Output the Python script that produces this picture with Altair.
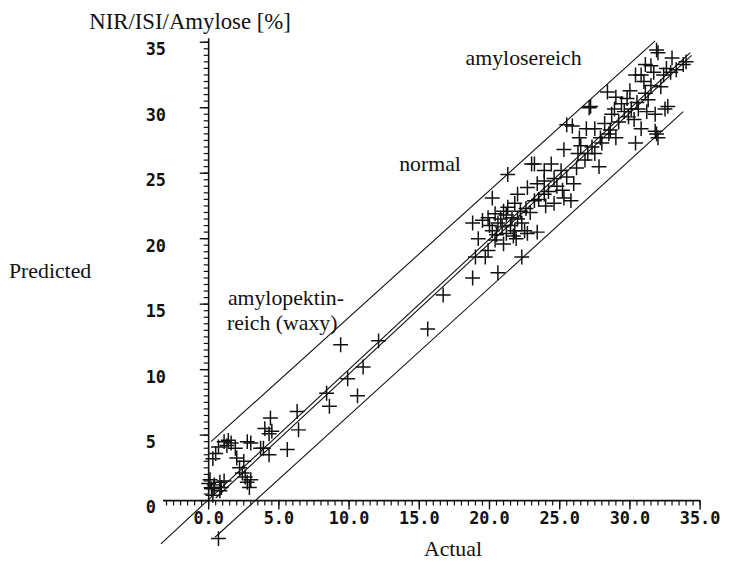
import altair as alt
import pandas as pd
import numpy as np

# ---- data (Actual vs Predicted amylose, %) ----
actual = [
    0.0, 0.2, 0.4, 0.9, 1.1, 0.3, 0.4, 0.8, 0.8, 0.1,
    0.3, 0.7, 0.5,
    1.1, 1.6, 1.9, 1.3, 1.4,
    2.0, 2.5, 3.0, 2.75, 3.7,
    2.4, 2.6, 2.75, 2.9, 2.2, 3.0,
    4.4, 4.0, 4.3, 4.5, 3.9, 4.3, 5.6, 6.3, 6.4,
    0.7,
    8.4, 8.6, 9.4, 9.9, 10.6, 11.0, 12.1, 15.6, 16.7,
    18.8, 20.6, 19.0, 19.7, 22.3, 19.9, 19.2, 20.4, 21.9, 21.2,
    22.7, 20.2, 21.8, 22.5, 23.4, 20.9, 18.8, 20.6, 22.3, 19.5,
    19.9, 21.6, 20.4, 21.0, 22.2, 21.3, 21.8, 24.6, 20.2, 25.3,
    25.8, 23.2, 22.0, 23.9, 25.2, 22.7, 23.4, 26.0, 23.9, 24.6,
    21.3, 23.9, 25.1, 23.0, 24.4, 26.3, 23.2,
    20.0, 20.8, 21.5, 21.2, 22.0, 22.6, 21.7, 20.5, 21.0, 22.9,
    23.5, 24.2, 24.8, 25.5, 24.0,
    26.2, 27.8, 26.5, 27.5, 27.0, 25.3, 26.4, 27.9, 29.0, 30.4,
    31.9, 32.0, 31.8, 30.8, 26.9, 27.5, 28.5, 28.2, 25.5, 25.9,
    30.3, 28.7, 29.6, 31.2, 31.8, 28.9, 30.1, 30.6, 32.5, 27.2,
    27.1, 32.7, 29.4, 29.8, 31.1, 28.4, 31.5, 32.2, 30.4, 30.8,
    32.4, 31.7, 32.9, 31.5, 31.1, 33.8, 34.0, 32.0, 31.9, 33.0,
    26.8, 27.3, 28.0, 28.6, 29.2, 29.9, 30.5, 31.3, 29.0, 30.0,
    31.0, 32.6, 33.3,
]
predicted = [
    1.3, 0.9, 1.2, 1.0, 1.5, 0.4, 1.0, 1.4, 0.75, 1.6,
    3.2, 4.1, 3.6,
    4.5, 4.4, 4.0, 4.2, 4.6,
    3.25, 3.0, 4.4, 4.5, 4.0,
    2.1, 1.8, 1.4, 1.0, 2.5, 1.6,
    6.3, 5.5, 5.1, 5.3, 4.0, 3.5, 3.9, 6.8, 5.4,
    -2.9,
    8.2, 7.2, 11.9, 9.3, 8.0, 10.2, 12.2, 13.1, 15.7,
    17.0, 17.4, 18.6, 18.6, 18.6, 19.1, 20.0, 19.9, 20.0, 20.4,
    20.4, 20.6, 20.6, 20.6, 20.5, 20.9, 21.2, 21.2, 21.2, 21.4,
    21.6, 21.6, 21.9, 22.1, 22.1, 22.4, 22.7, 22.7, 23.1, 23.1,
    22.9, 22.9, 23.4, 23.4, 23.7, 23.9, 24.2, 24.2, 24.4, 24.6,
    24.9, 25.2, 25.2, 25.7, 25.7, 26.5, 25.7,
    21.0, 21.5, 21.0, 21.8, 21.5, 22.3, 20.2, 20.3, 19.6, 22.0,
    23.0, 23.6, 24.0, 24.7, 22.5,
    25.4, 25.5, 27.1, 26.5, 26.5, 26.8, 27.7, 27.7, 27.7, 27.3,
    28.0, 27.7, 28.2, 28.4, 28.4, 28.4, 28.0, 28.8, 28.7, 28.6,
    29.1, 29.5, 29.7, 29.7, 29.5, 29.9, 29.9, 29.9, 29.9, 30.1,
    30.0, 30.1, 30.3, 30.7, 31.1, 31.2, 31.7, 31.6, 32.5, 32.5,
    32.5, 32.7, 32.7, 33.2, 33.3, 33.3, 33.5, 34.2, 34.4, 33.8,
    26.0, 27.0, 27.3, 28.3, 28.9, 29.3, 30.4, 30.6, 30.8, 31.3,
    32.0, 33.0, 32.9,
]

# reference / regression / band lines (end points, data units)
line_names = ["upper", "upper", "diag", "diag", "reg", "reg", "lower", "lower"]
line_x = [0.17, 31.8, -3.4, 34.3, 0.5, 34.4, 0.45, 33.8]
line_y = [4.5, 35.1, -3.3, 34.2, 0.2, 34.0, -2.8, 29.7]

x_tick_values = [0, 5, 10, 15, 20, 25, 30, 35]
x_tick_labels = ["0.0", "5.0", "10.0", "15.0", "20.0", "25.0", "30.0", "35.0"]
y_tick_values = [0, 5, 10, 15, 20, 25, 30, 35]
y_tick_labels = ["0", "5", "10", "15", "20", "25", "30", "35"]

region_labels = ["amylosereich", "normal", "amylopektin-", "reich (waxy)"]
region_x = [18.3, 13.57, 1.37, 1.3]
region_y = [33.25, 25.2, 14.95, 13.05]

x_title = "Actual"
y_title = "Predicted"
top_title = "NIR/ISI/Amylose [%]"

# ---- chart ----
xs = alt.Scale(domain=[-3.5, 35.5], nice=False, zero=False)
ys = alt.Scale(domain=[-3.5, 36.5], nice=False, zero=False)
INK = "#111111"
SERIF = "Liberation Serif"
MONO = "DejaVu Sans Mono"
one = alt.Data(values=[{}])

pts = pd.DataFrame({"actual": actual, "predicted": predicted})
lines_df = pd.DataFrame({"line": line_names, "x": line_x, "y": line_y})

minor_x = pd.DataFrame({"v": np.arange(-3.0, 35.01, 0.5)})
minor_y = pd.DataFrame({"v": np.arange(0.0, 35.01, 0.5)})
major_x = pd.DataFrame({"v": x_tick_values})
major_y = pd.DataFrame({"v": y_tick_values})
xlab = pd.DataFrame({"v": x_tick_values, "t": x_tick_labels})
ylab = pd.DataFrame({"v": y_tick_values, "t": y_tick_labels})
reg = pd.DataFrame({"t": region_labels, "x": region_x, "y": region_y})

lines = alt.Chart(lines_df).mark_line(color=INK, strokeWidth=1.1).encode(
    x=alt.X("x:Q", scale=xs, axis=None),
    y=alt.Y("y:Q", scale=ys, axis=None),
    detail="line:N",
)

points = alt.Chart(pts).mark_point(
    shape="M-1,0L1,0M0,-1L0,1", filled=False, size=225,
    strokeWidth=1.5, color=INK, opacity=1,
).encode(
    x=alt.X("actual:Q", scale=xs, axis=None),
    y=alt.Y("predicted:Q", scale=ys, axis=None),
)

x_axis_line = alt.Chart(one).mark_rule(color=INK, strokeWidth=1.6).encode(
    x=alt.X(datum=-3.25, type="quantitative", scale=xs, axis=None),
    x2=alt.X2(datum=35.0),
    y=alt.Y(datum=0, type="quantitative", scale=ys, axis=None),
)
y_axis_line = alt.Chart(one).mark_rule(color=INK, strokeWidth=1.6).encode(
    x=alt.X(datum=0, type="quantitative", scale=xs, axis=None),
    y=alt.Y(datum=0, type="quantitative", scale=ys, axis=None),
    y2=alt.Y2(datum=35.3),
)

x_minor = alt.Chart(minor_x).mark_tick(orient="vertical", size=5, thickness=1.2, yOffset=2.5, color=INK, opacity=1).encode(
    x=alt.X("v:Q", scale=xs, axis=None),
    y=alt.Y(datum=0, type="quantitative", scale=ys, axis=None),
)
x_major = alt.Chart(major_x).mark_tick(orient="vertical", size=9, thickness=1.4, yOffset=4.5, color=INK, opacity=1).encode(
    x=alt.X("v:Q", scale=xs, axis=None),
    y=alt.Y(datum=0, type="quantitative", scale=ys, axis=None),
)
y_minor = alt.Chart(minor_y).mark_tick(orient="horizontal", size=5, thickness=1.2, xOffset=-2.5, color=INK, opacity=1).encode(
    y=alt.Y("v:Q", scale=ys, axis=None),
    x=alt.X(datum=0, type="quantitative", scale=xs, axis=None),
)
y_major = alt.Chart(major_y).mark_tick(orient="horizontal", size=9, thickness=1.4, xOffset=-4.5, color=INK, opacity=1).encode(
    y=alt.Y("v:Q", scale=ys, axis=None),
    x=alt.X(datum=0, type="quantitative", scale=xs, axis=None),
)

x_labels = alt.Chart(xlab).mark_text(font=MONO, fontSize=17, fontWeight="bold", color=INK,
                                     align="center", baseline="middle", dy=19).encode(
    x=alt.X("v:Q", scale=xs, axis=None),
    y=alt.Y(datum=0, type="quantitative", scale=ys, axis=None),
    text="t:N",
)
y_labels = alt.Chart(ylab).mark_text(font=MONO, fontSize=17, fontWeight="bold", color=INK,
                                     align="left", baseline="middle", dy=8).encode(
    y=alt.Y("v:Q", scale=ys, axis=None),
    x=alt.value(-14),
    text="t:N",
)

regions = alt.Chart(reg).mark_text(font=SERIF, fontSize=22, color=INK,
                                   align="left", baseline="alphabetic").encode(
    x=alt.X("x:Q", scale=xs, axis=None),
    y=alt.Y("y:Q", scale=ys, axis=None),
    text="t:N",
)

def title_text(txt, px, py, size=22):
    return alt.Chart(one).mark_text(font=SERIF, fontSize=size, color=INK,
                                    align="left", baseline="alphabetic", text=txt).encode(
        x=alt.value(px), y=alt.value(py))

titles = (title_text(top_title, -71, 6, 23)
          + title_text(y_title, -152, 258)
          + title_text(x_title, 267, 539))

chart = alt.layer(
    lines, points, x_axis_line, y_axis_line, x_minor, x_major, y_minor, y_major,
    x_labels, y_labels, regions, titles,
).properties(
    width=553, height=529,
    padding={"left": 153, "top": 12, "right": 14, "bottom": 13},
    autosize=alt.AutoSizeParams(type="none"),
    background="white",
).configure_view(stroke=None)

chart.save("out.html", embed_options={"renderer": "svg", "actions": False})
